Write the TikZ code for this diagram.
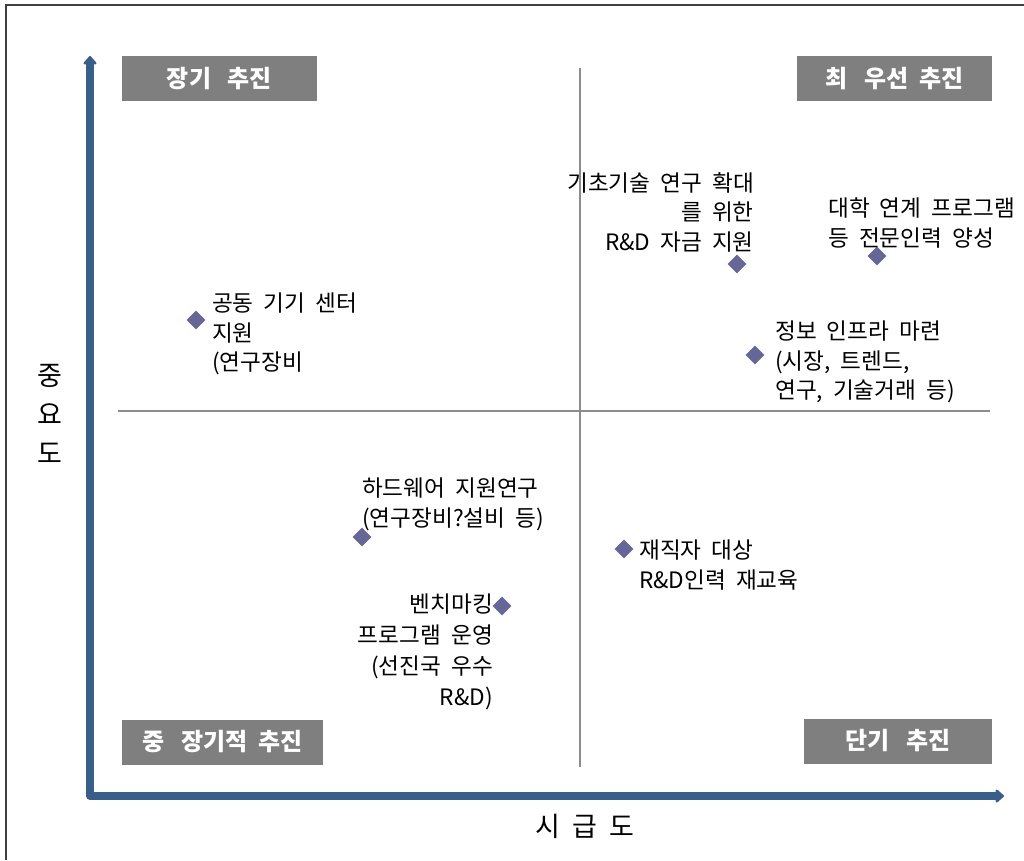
\documentclass[tikz,border=0pt]{standalone}
\usepackage{fontspec}
\setmainfont{Noto Sans CJK KR}[WordSpace=2.0]
\usetikzlibrary{shapes.geometric,arrows.meta}
\definecolor{axisblue}{RGB}{58,94,138}
\definecolor{boxgray}{RGB}{127,127,127}
\definecolor{dia}{RGB}{102,102,153}
\definecolor{quad}{RGB}{140,140,140}
\tikzset{
  lbl/.style={fill=boxgray,text=white,font=\fontsize{24}{28}\selectfont\bfseries,minimum height=45pt,inner sep=0pt},
  pt/.style={diamond,fill=dia,minimum size=19pt,inner sep=0pt},
  txt/.style={font=\fontsize{22.6}{29.5}\selectfont,inner sep=0pt},
  txtwide/.style={font=\fontsize{22.6}{30.8}\selectfont,inner sep=0pt},
  axlbl/.style={font=\fontsize{27}{39}\selectfont,inner sep=0pt},
}
\begin{document}
\begin{tikzpicture}[x=1pt,y=-1pt]
\useasboundingbox (0,0) rectangle (1024,860);
\coordinate (f1) at (6,860);
\coordinate (f2) at (6,5);
\coordinate (f3) at (1024,5);
\draw[line width=1.5pt,black!75] (f1) -- (f2) -- (f3);
% quadrant lines
\coordinate (vq1) at (580,68);
\coordinate (vq2) at (580,767);
\coordinate (hq1) at (118,411);
\coordinate (hq2) at (990,411);
\draw[quad,line width=1.8pt] (vq1) -- (vq2);
\draw[quad,line width=1.8pt] (hq1) -- (hq2);
% axes
\coordinate (ytop) at (90,56);
\coordinate (org) at (90,796);
\coordinate (xend) at (1004,796);
\draw[axisblue,line width=8pt,line join=round,{Triangle[width=15pt,length=9pt,round]}-{Triangle[width=15pt,length=9pt,round]}] (ytop) -- (org) -- (xend);
% quadrant labels
\node[lbl,minimum width=195pt] (q1) at (219.5,78.5) {장기\hspace{0.7em}추진};
\node[lbl,minimum width=195pt] (q2) at (894.5,78.5) {최\hspace{0.7em}우선 추진};
\node[lbl,minimum width=201pt] (q3) at (222.5,742) {중\hspace{0.7em}장기적 추진};
\node[lbl,minimum width=188pt] (q4) at (898,741) {단기\hspace{0.7em}추진};
% axis labels
\node[axlbl,align=center] (ylab) at (50,414) {중\\요\\도};
\node[axlbl] (xlab) at (585,826) {시 급 도};
% points
\node[pt] (p1) at (196,320) {};
\node[pt] (p2) at (737,264) {};
\node[pt] (p3) at (877,256) {};
\node[pt] (p4) at (755,355) {};
\node[pt] (p5) at (362,537) {};
\node[pt] (p6) at (502,606) {};
\node[pt] (p7) at (624,549) {};
% texts
\node[txt,align=left,anchor=north west] (t1) at (212,293) {공동 기기 센터\\지원\\(연구장비};
\node[txt,align=right,anchor=north east] (t2) at (754,172) {기초기술 연구 확대\\를 위한\\R\&D 자금 지원};
\node[txt,align=left,anchor=north west] (t3) at (828,198) {대학 연계 프로그램\\등 전문인력 양성};
\node[txt,align=left,anchor=north west] (t4) at (775,321) {정보 인프라 마련\\(시장, 트렌드,\\연구, 기술거래 등)};
\node[txt,align=left,anchor=north west] (t5) at (362,478) {하드웨어 지원연구\\(연구장비?설비 등)};
\node[txt,align=left,anchor=north west] (t7) at (639,540) {재직자 대상\\R\&D인력 재교육};
\node[txtwide,align=right,anchor=north east] (t6) at (493,594) {벤치마킹\\프로그램 운영\\(선진국 우수\\R\&D)};
\end{tikzpicture}
\end{document}
